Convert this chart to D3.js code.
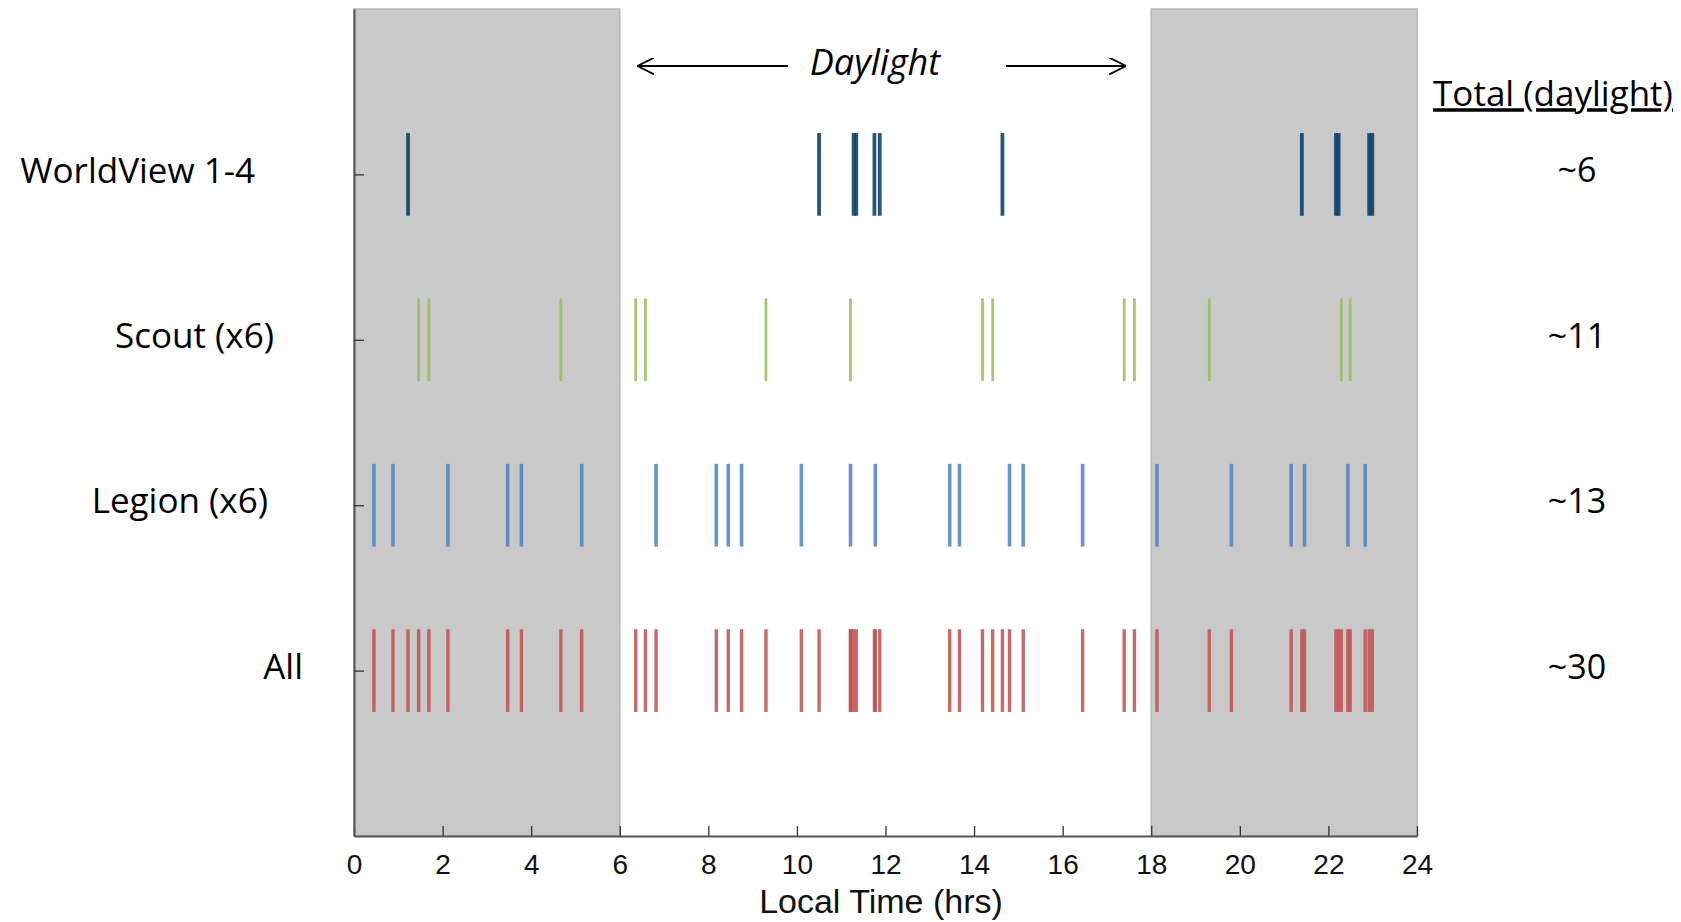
<!DOCTYPE html>
<html>
<head>
<meta charset="utf-8">
<script src="https://cdn.jsdelivr.net/npm/d3@7"></script>
<style>
  body { margin: 0; background: #fff; }
</style>
</head>
<body>
<div id="chart"></div>
<script>
var w = 1681;
var h = 922;

// data (local time in hours)
var rows = ["WorldView 1-4", "Scout (x6)", "Legion (x6)", "All"];
var totals = ["~6", "~11", "~13", "~30"];
var worldview = [1.22, 10.5, 11.28, 11.34, 11.75, 11.87, 14.64, 21.4, 22.17, 22.23, 22.92, 22.99];
var scout = [1.46, 1.69, 4.67, 6.36, 6.58, 9.30, 11.21, 14.19, 14.42, 17.39, 17.62, 19.31, 22.29, 22.49];
var legion = [0.45, 0.88, 2.12, 3.47, 3.78, 5.14, 6.82, 8.18, 8.45, 8.75, 10.10, 11.21, 11.77,
              13.45, 13.67, 14.80, 15.11, 16.45, 18.13, 19.81, 21.16, 21.46, 22.44, 22.83];
var night = [[0, 6], [18, 24]];
var xTicks = [0, 2, 4, 6, 8, 10, 12, 14, 16, 18, 20, 22, 24];

// "All" row is every pass from the three fleets
var all = worldview.concat(scout, legion).sort(d3.ascending);
var series = [worldview, scout, legion, all];

var colors = ["#003a63", "#9bbb59", "#4f81bd", "#c0504d"];
var widths = [3.8, 2.8, 3.6, 3.4];
var labelEnd = [255, 274, 268, 303]; // right edge of each row label

var svg = d3.select("#chart")
    .append("svg")
    .attr("width", w)
    .attr("height", h);

var xScale = d3.scaleLinear()
    .domain([0, 24])
    .range([354, 1417]);

var yScale = d3.scalePoint()
    .domain(rows)
    .range([9, 836])
    .padding(1);

var halfLen = yScale.step() * 0.25;

// night shading
svg.selectAll("rect.night")
    .data(night)
    .enter()
    .append("rect")
    .attr("class", "night")
    .attr("x", function (d) { return xScale(d[0]); })
    .attr("y", 9)
    .attr("width", function (d) { return xScale(d[1]) - xScale(d[0]); })
    .attr("height", 836 - 9)
    .attr("fill", "#c9c9c9")
    .attr("stroke", "#b5b5b5")
    .attr("stroke-width", 1.5);

// event lines, one group per row
rows.forEach(function (name, i) {
    svg.append("g")
        .selectAll("line")
        .data(series[i])
        .enter()
        .append("line")
        .attr("x1", function (d) { return xScale(d); })
        .attr("x2", function (d) { return xScale(d); })
        .attr("y1", yScale(name) - halfLen)
        .attr("y2", yScale(name) + halfLen)
        .attr("stroke", colors[i])
        .attr("stroke-opacity", 0.85)
        .attr("stroke-width", widths[i]);
});

// axes
var xAxis = d3.axisBottom(xScale)
    .tickValues(xTicks)
    .tickSizeInner(-10)
    .tickSizeOuter(0)
    .tickPadding(18);

var gx = svg.append("g")
    .attr("transform", "translate(0,836)")
    .call(xAxis);
gx.select(".domain").attr("stroke", "#555").attr("stroke-width", 2);
gx.selectAll(".tick line").attr("stroke", "#333").attr("stroke-width", 1.3);
gx.selectAll(".tick text")
    .attr("font-family", "Liberation Sans, Arial, sans-serif")
    .attr("font-size", 28)
    .attr("fill", "#111");

var yAxis = d3.axisLeft(yScale)
    .tickSizeInner(-10)
    .tickSizeOuter(0)
    .tickFormat("");

var gy = svg.append("g")
    .attr("transform", "translate(354,0)")
    .call(yAxis);
gy.select(".domain").attr("stroke", "#555").attr("stroke-width", 2);
gy.selectAll(".tick line").attr("stroke", "#333").attr("stroke-width", 1.3);

svg.append("text")
    .attr("x", 881)
    .attr("y", 913)
    .attr("text-anchor", "middle")
    .attr("font-family", "Liberation Sans, Arial, sans-serif")
    .attr("font-size", 34)
    .attr("fill", "#111")
    .text("Local Time (hrs)");

// row labels
svg.selectAll("text.row")
    .data(rows)
    .enter()
    .append("text")
    .attr("class", "row")
    .attr("x", function (d, i) { return labelEnd[i]; })
    .attr("y", function (d) { return yScale(d) - 4; })
    .attr("dy", "0.35em")
    .attr("text-anchor", "end")
    .attr("font-family", "Open Sans, sans-serif")
    .attr("font-size", 35)
    .attr("fill", "#000")
    .text(function (d) { return d; });

// totals column
svg.append("text")
    .attr("x", 1553)
    .attr("y", 94)
    .attr("dy", "0.35em")
    .attr("text-anchor", "middle")
    .attr("font-family", "Open Sans, sans-serif")
    .attr("font-size", 35)
    .attr("text-decoration", "underline")
    .attr("fill", "#000")
    .text("Total (daylight)");

svg.selectAll("text.total")
    .data(totals)
    .enter()
    .append("text")
    .attr("class", "total")
    .attr("x", 1577)
    .attr("y", function (d, i) { return yScale(rows[i]) - 4; })
    .attr("dy", "0.35em")
    .attr("text-anchor", "middle")
    .attr("font-family", "Open Sans, sans-serif")
    .attr("font-size", 34)
    .attr("fill", "#000")
    .text(function (d) { return d; });

// daylight arrows
var defs = svg.append("defs");
defs.append("marker")
    .attr("id", "head")
    .attr("viewBox", "0 0 10 10")
    .attr("refX", 10)
    .attr("refY", 5)
    .attr("markerWidth", 17)
    .attr("markerHeight", 17)
    .attr("orient", "auto-start-reverse")
    .attr("markerUnits", "userSpaceOnUse")
    .append("path")
    .attr("d", "M0,0 L10,5 L0,10")
    .attr("fill", "none")
    .attr("stroke", "#000")
    .attr("stroke-width", 1.1);

var arrowY = 66;
svg.append("line")
    .attr("x1", xScale(9.8)).attr("x2", xScale(6.4))
    .attr("y1", arrowY).attr("y2", arrowY)
    .attr("stroke", "#000").attr("stroke-width", 2)
    .attr("marker-end", "url(#head)");
svg.append("line")
    .attr("x1", xScale(14.72)).attr("x2", xScale(17.43))
    .attr("y1", arrowY).attr("y2", arrowY)
    .attr("stroke", "#000").attr("stroke-width", 2)
    .attr("marker-end", "url(#head)");

svg.append("text")
    .attr("x", 875)
    .attr("y", 62)
    .attr("dy", "0.35em")
    .attr("text-anchor", "middle")
    .attr("font-family", "Open Sans, sans-serif")
    .attr("font-style", "italic")
    .attr("font-size", 36)
    .attr("fill", "#000")
    .text("Daylight");
</script>
</body>
</html>
